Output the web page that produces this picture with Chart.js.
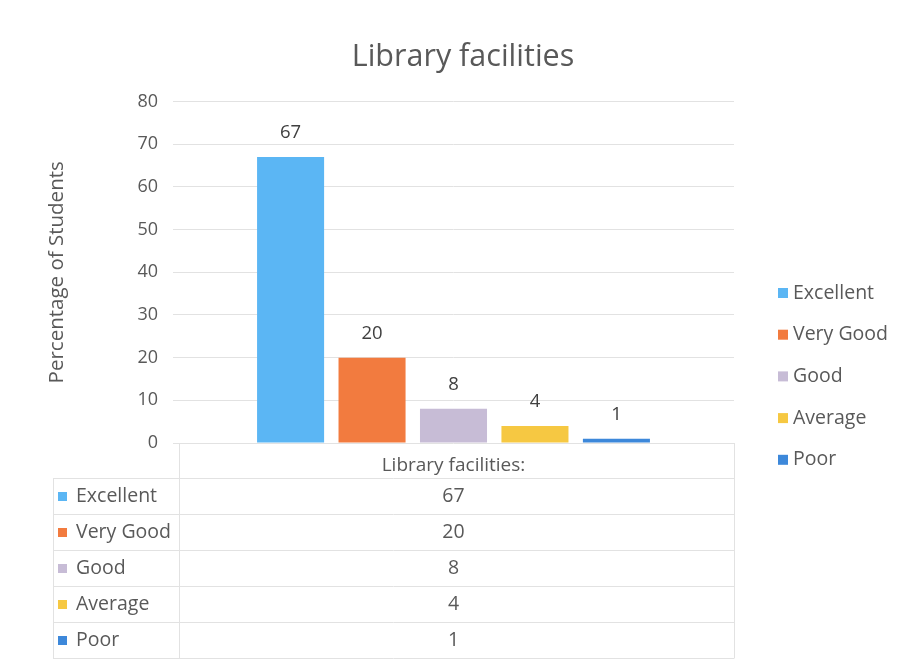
<!DOCTYPE html>
<html>
<head>
<meta charset="utf-8">
<title>Library facilities</title>
<script src="https://cdn.jsdelivr.net/npm/chart.js@4.4.1/dist/chart.umd.min.js"></script>
<style>
    html, body { margin: 0; padding: 0; background: #ffffff; }
    #wrap { width: 906px; height: 665px; }
</style>
</head>
<body>
<div id="wrap"><canvas id="libraryChart" width="906" height="665"></canvas></div>
<script>
// Datos del gráfico
const CATEGORY = ['Library facilities:'];
const RATINGS = ['Excellent', 'Very Good', 'Good', 'Average', 'Poor'];
const PERCENTAGES = [67, 20, 8, 4, 1];
const COLORS = ['#5bb6f4', '#f27b3f', '#c7bcd6', '#f6c842', '#3d88da'];
const Y_MIN = 0;
const Y_MAX = 80;
const Y_STEP = 10;

const FONT = '"Open Sans", sans-serif';
const TEXT = '#595959';
const LINE = '#e2e2e2';

// Etiquetas, leyenda y tabla de datos
const extrasPlugin = {
    id: 'extras',
    afterDatasetsDraw(chart) {
        const ctx = chart.ctx;
        ctx.save();
        ctx.font = '18.5px ' + FONT;
        ctx.fillStyle = '#404040';
        ctx.textAlign = 'center';
        ctx.textBaseline = 'bottom';
        chart.data.datasets.forEach((ds, i) => {
            const bar = chart.getDatasetMeta(i).data[0];
            ctx.fillText(String(ds.data[0]), bar.x, bar.y - 15);
        });
        ctx.restore();
    },
    afterDraw(chart) {
        const ctx = chart.ctx;
        const area = chart.chartArea;
        const colX = chart.scales.x.getPixelForValue(0);
        ctx.save();

        // leyenda a la derecha
        ctx.font = '19.5px ' + FONT;
        ctx.textAlign = 'left';
        ctx.textBaseline = 'middle';
        RATINGS.forEach((name, i) => {
            const y = 293 + i * 41.7;
            ctx.fillStyle = COLORS[i];
            ctx.fillRect(778, y - 5, 10, 10);
            ctx.fillStyle = TEXT;
            ctx.fillText(name, 793, y);
        });

        // tabla de datos
        const rowTop = 478;
        const rowH = 36;
        ctx.strokeStyle = LINE;
        ctx.lineWidth = 1;
        ctx.beginPath();
        for (let k = 0; k <= RATINGS.length; k++) {
            const y = Math.round(rowTop + k * rowH) + 0.5;
            ctx.moveTo(53, y);
            ctx.lineTo(area.right, y);
        }
        const bottom = rowTop + RATINGS.length * rowH + 0.5;
        [area.left + 6, area.right].forEach(x => {
            ctx.moveTo(Math.round(x) + 0.5, area.bottom);
            ctx.lineTo(Math.round(x) + 0.5, bottom);
        });
        ctx.moveTo(53.5, rowTop);
        ctx.lineTo(53.5, bottom);
        ctx.stroke();

        ctx.font = '19.5px ' + FONT;
        RATINGS.forEach((name, i) => {
            const y = rowTop + i * rowH + rowH / 2;
            ctx.fillStyle = COLORS[i];
            ctx.fillRect(58, y - 4, 9, 9);
            ctx.fillStyle = TEXT;
            ctx.textAlign = 'left';
            ctx.fillText(name, 76, y);
            ctx.textAlign = 'center';
            ctx.fillText(String(PERCENTAGES[i]), colX, y);
        });
        ctx.restore();
    }
};

const ctx = document.getElementById('libraryChart').getContext('2d');
new Chart(ctx, {
    type: 'bar',
    data: {
        labels: CATEGORY,
        datasets: RATINGS.map((name, i) => ({
            label: name,
            data: [PERCENTAGES[i]],
            backgroundColor: COLORS[i],
            borderWidth: 0,
            categoryPercentage: 0.726,
            barPercentage: 0.823
        }))
    },
    options: {
        responsive: false,
        animation: false,
        layout: { padding: { left: 20, right: 0, top: 0, bottom: 182 } },
        plugins: {
            legend: { display: false },
            tooltip: { enabled: false },
            title: {
                display: true,
                text: 'Library facilities',
                color: TEXT,
                font: { family: FONT, size: 30.5, weight: 'normal' },
                padding: { top: 39, bottom: 26 }
            }
        },
        scales: {
            x: {
                grid: { display: false, drawTicks: false },
                border: { display: false },
                ticks: {
                    color: TEXT,
                    padding: 11,
                    font: { family: FONT, size: 19 }
                },
                afterFit(scale) { scale.height = 40; }
            },
            y: {
                min: Y_MIN,
                max: Y_MAX,
                grid: { color: LINE, drawTicks: false },
                border: { display: false },
                ticks: {
                    stepSize: Y_STEP,
                    color: TEXT,
                    padding: 15,
                    font: { family: FONT, size: 18 }
                },
                title: {
                    display: true,
                    text: 'Percentage of Students',
                    color: TEXT,
                    font: { family: FONT, size: 20.5 },
                    padding: { top: 25, bottom: 0 }
                },
                afterFit(scale) { scale.width = 153; }
            },
            legendSpace: {
                position: 'right',
                display: true,
                grid: { display: false },
                border: { display: false },
                ticks: { display: false },
                afterFit(scale) { scale.width = 172; }
            }
        }
    },
    plugins: [extrasPlugin]
});
</script>
</body>
</html>
